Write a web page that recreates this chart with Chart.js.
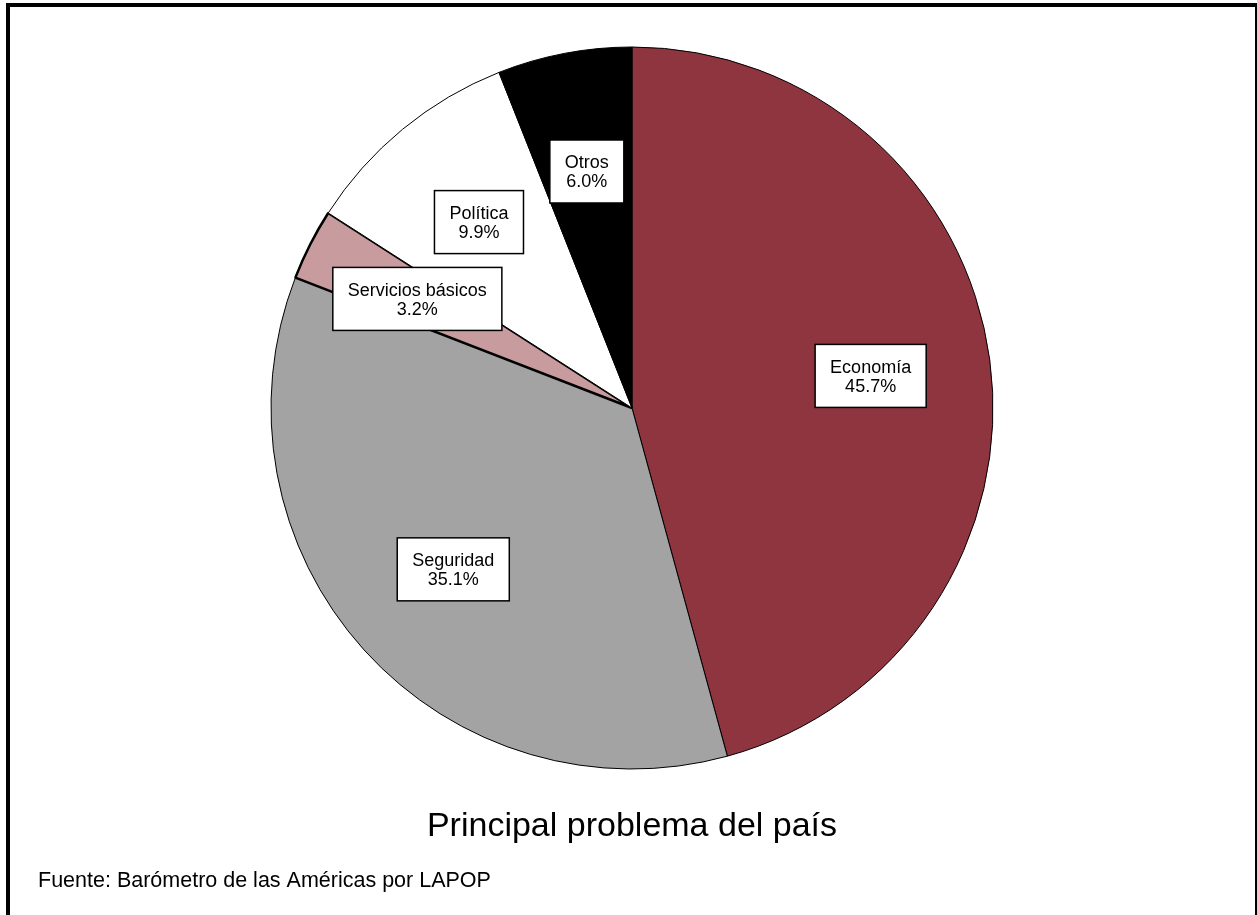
<!DOCTYPE html>
<html>
<head>
<meta charset="utf-8">
<script src="https://cdn.jsdelivr.net/npm/chart.js@4.4.0/dist/chart.umd.min.js"></script>
<style>
  html, body { margin: 0; padding: 0; background: #ffffff; }
  #wrap { width: 1257px; height: 915px; position: relative; }
</style>
</head>
<body>
<div id="wrap"><canvas id="c" width="1257" height="915"></canvas></div>
<script>
const categories = ['Economía', 'Seguridad', 'Servicios básicos', 'Política', 'Otros'];
const values = [45.7, 35.1, 3.2, 9.9, 6.0];
const titleText = 'Principal problema del país';
const sourceText = 'Fuente: Barómetro de las Américas por LAPOP';

const sliceColors = ['#8e353f', '#a3a3a3', '#c89b9e', '#ffffff', '#000000'];
const sliceBorders = [1, 1, 2.5, 1, 1];
const FONT = '"Liberation Sans", Arial, Helvetica, sans-serif';

const decorPlugin = {
  id: 'decor',
  beforeDraw(chart) {
    const ctx = chart.ctx;
    ctx.save();
    ctx.fillStyle = '#ffffff';
    ctx.fillRect(0, 0, chart.width, chart.height);
    ctx.restore();
  },
  afterDatasetsDraw(chart) {
    const ctx = chart.ctx;
    const meta = chart.getDatasetMeta(0);
    ctx.save();
    ctx.font = '18px ' + FONT;
    ctx.textAlign = 'center';
    ctx.textBaseline = 'middle';
    meta.data.forEach((arc, i) => {
      const p = arc.getProps(['x', 'y', 'startAngle', 'endAngle', 'outerRadius'], true);
      const mid = (p.startAngle + p.endAngle) / 2;
      const r = p.outerRadius * 0.667;
      const cx = p.x + Math.cos(mid) * r;
      const cy = p.y + Math.sin(mid) * r;
      const l1 = categories[i];
      const l2 = values[i].toFixed(1) + '%';
      const w = Math.max(ctx.measureText(l1).width, ctx.measureText(l2).width) + 30;
      const h = 63;
      ctx.fillStyle = '#ffffff';
      ctx.fillRect(cx - w / 2, cy - h / 2, w, h);
      ctx.strokeStyle = '#000000';
      ctx.lineWidth = 1.5;
      ctx.strokeRect(cx - w / 2, cy - h / 2, w, h);
      ctx.fillStyle = '#000000';
      ctx.fillText(l1, cx, cy - 8);
      ctx.fillText(l2, cx, cy + 11);
    });
    ctx.restore();
  },
  afterDraw(chart) {
    const ctx = chart.ctx;
    ctx.save();
    ctx.fillStyle = '#000000';
    ctx.textBaseline = 'alphabetic';
    ctx.textAlign = 'center';
    ctx.font = '34px ' + FONT;
    ctx.fillText(titleText, 632, 836);
    ctx.textAlign = 'left';
    ctx.font = '21.5px ' + FONT;
    ctx.fillText(sourceText, 38, 887);
    ctx.strokeStyle = '#000000';
    ctx.lineWidth = 4;
    ctx.strokeRect(8, 5, 1249, 920);
    ctx.restore();
  }
};

new Chart(document.getElementById('c'), {
  type: 'pie',
  data: {
    labels: categories,
    datasets: [{
      data: values,
      backgroundColor: sliceColors,
      borderColor: '#000000',
      borderWidth: sliceBorders,
      borderAlign: 'center'
    }]
  },
  options: {
    responsive: false,
    animation: false,
    radius: 361,
    layout: { padding: { left: 20, right: 13, top: 20, bottom: 119 } },
    plugins: {
      legend: { display: false },
      tooltip: { enabled: false },
      title: { display: false }
    }
  },
  plugins: [decorPlugin]
});
</script>
</body>
</html>
